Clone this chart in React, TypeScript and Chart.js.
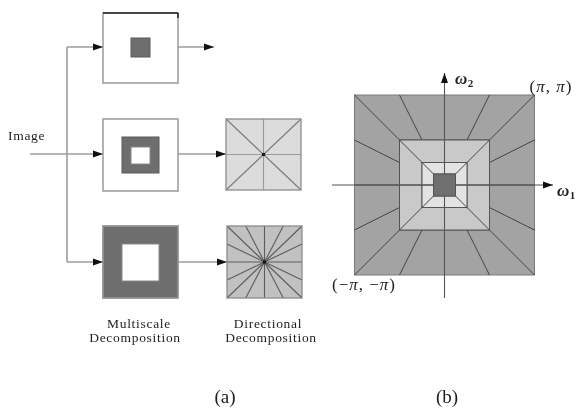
import React, { useEffect, useRef } from "react";
import { Chart, registerables } from "chart.js";
Chart.register(...registerables);

const W = 578;
const H = 409;

// ---------- Panel (a) ----------
// multiscale boxes [x0, y0, x1, y1]
const scaleBoxes = [
  [103, 13, 178, 83],
  [103, 119, 178, 191],
  [103, 226, 178, 298],
];
// dark pass-band in each box: outer rect and hole rect
const scaleBandOuter = [
  [131, 38, 150, 57],
  [122, 137, 159, 173],
  [103, 226, 178, 298],
];
const scaleBandHole: (number[] | null)[] = [
  null,
  [131, 147, 150, 164],
  [122, 244, 159, 281],
];
// directional boxes and number of sections per side
const dirBoxes = [
  [226, 119, 301, 190],
  [227, 226, 302, 298],
];
const dirDivisions = [2, 4];
const dirFills = ["#dcdcdc", "#c1c1c1"];
// connectors [x0, y0, x1, y1, arrowhead 1/0]
const connectors = [
  [67, 47, 67, 262, 0],
  [67, 47, 103, 47, 1],
  [178, 47, 214, 47, 1],
  [30, 154, 103, 154, 1],
  [178, 154, 226, 154, 1],
  [67, 262, 103, 262, 1],
  [178, 262, 227, 262, 1],
];

// ---------- Panel (b) ----------
const freqCenter = [444.5, 185];
const freqHalfSizes = [90, 45, 22.5, 11];
const freqFills = ["#a3a3a3", "#c9c9c9", "#e3e3e3", "#6f6f6f"];
const freqRayDivisions = [4, 2, 2];
const axisH = [332, 553];
const axisV = [298, 73];

// ---------- Labels ----------
const labelTexts = ["Image", "Multiscale", "Decomposition", "Directional", "Decomposition", "(a)", "(b)"];
const labelX = [8, 139, 135, 268, 271, 225, 447];
const labelY = [136, 324, 338, 324, 338, 398, 398];
const labelSize = [13.5, 13.5, 13.5, 13.5, 13.5, 19, 19];

function perimeterPoints(div: number) {
  // unit square points (−1..1) at fractions of each side
  const pts: number[][] = [];
  for (let i = 0; i < div; i++) {
    const t = -1 + (2 * i) / div;
    pts.push([t, -1]);
    pts.push([1, t]);
    pts.push([-t, 1]);
    pts.push([-1, -t]);
  }
  return pts;
}

const diagramPlugin = {
  id: "diagram",
  afterDatasetsDraw(chart: any) {
    const ctx: CanvasRenderingContext2D = chart.ctx;
    const sx = chart.scales.x;
    const sy = chart.scales.y;
    const px = (v: number) => sx.getPixelForValue(v);
    const py = (v: number) => sy.getPixelForValue(v);
    const rect = (r: number[], fill: string | null, stroke: string | null, lw = 1) => {
      const x0 = px(r[0]), y0 = py(r[1]), x1 = px(r[2]), y1 = py(r[3]);
      if (fill) {
        ctx.fillStyle = fill;
        ctx.fillRect(x0, y0, x1 - x0, y1 - y0);
      }
      if (stroke) {
        ctx.strokeStyle = stroke;
        ctx.lineWidth = lw;
        ctx.strokeRect(x0, y0, x1 - x0, y1 - y0);
      }
    };
    const line = (x0: number, y0: number, x1: number, y1: number, color: string, lw: number) => {
      ctx.beginPath();
      ctx.moveTo(px(x0), py(y0));
      ctx.lineTo(px(x1), py(y1));
      ctx.strokeStyle = color;
      ctx.lineWidth = lw;
      ctx.stroke();
    };
    const arrowHead = (x0: number, y0: number, x1: number, y1: number, len = 10, hw = 3.5) => {
      const X0 = px(x0), Y0 = py(y0), X1 = px(x1), Y1 = py(y1);
      const a = Math.atan2(Y1 - Y0, X1 - X0);
      ctx.beginPath();
      ctx.moveTo(X1, Y1);
      ctx.lineTo(X1 - len * Math.cos(a) + hw * Math.sin(a), Y1 - len * Math.sin(a) - hw * Math.cos(a));
      ctx.lineTo(X1 - len * Math.cos(a) - hw * Math.sin(a), Y1 - len * Math.sin(a) + hw * Math.cos(a));
      ctx.closePath();
      ctx.fillStyle = "#111";
      ctx.fill();
    };

    ctx.save();
    ctx.lineCap = "butt";

    // connectors
    connectors.forEach((c) => {
      line(c[0], c[1], c[2], c[3], "#9c9c9c", 1.6);
      if (c[4]) arrowHead(c[0], c[1], c[2], c[3]);
    });

    // multiscale boxes
    scaleBoxes.forEach((b, i) => {
      rect(b, "#ffffff", null);
      rect(scaleBandOuter[i], "#6e6e6e", "#5a5a5a", 1);
      const h = scaleBandHole[i];
      if (h) rect(h, "#ffffff", "#8a8a8a", 1);
      rect(b, null, "#9a9a9a", 1.5);
    });
    // top edge of first box is darker
    line(103, 13, 178, 13, "#222", 1.5);
    line(178, 13, 178, 18, "#222", 1.5);

    // directional boxes
    dirBoxes.forEach((b, i) => {
      rect(b, dirFills[i], null);
      const cx = (b[0] + b[2]) / 2, cy = (b[1] + b[3]) / 2;
      const hx = (b[2] - b[0]) / 2, hy = (b[3] - b[1]) / 2;
      const pts = perimeterPoints(dirDivisions[i]);
      pts.forEach((p) => {
        const axisAligned = p[0] === 0 || p[1] === 0;
        const col = i === 0 && axisAligned ? "#9a9a9a" : i === 0 ? "#7a7a7a" : "#5c5c5c";
        line(cx, cy, cx + p[0] * hx, cy + p[1] * hy, col, 1.1);
      });
      rect(b, null, "#8c8c8c", 1.3);
      ctx.fillStyle = "#111";
      ctx.fillRect(px(cx) - 1.5, py(cy) - 1.5, 3, 3);
    });

    // frequency plane
    const [fx, fy] = freqCenter;
    for (let k = 0; k < 3; k++) {
      const o = freqHalfSizes[k], inr = freqHalfSizes[k + 1];
      rect([fx - o, fy - o, fx + o, fy + o], freqFills[k], k === 0 ? "#7a7a7a" : "#555", 1);
      const pts = perimeterPoints(freqRayDivisions[k]);
      pts.forEach((p) => {
        line(fx + p[0] * inr, fy + p[1] * inr, fx + p[0] * o, fy + p[1] * o, "#444", 1);
      });
      rect([fx - inr, fy - inr, fx + inr, fy + inr], null, "#555", 1);
    }
    // axes
    line(axisH[0], fy, axisH[1], fy, "#555", 1.1);
    line(fx, axisV[0], fx, axisV[1], "#555", 1.1);
    arrowHead(axisH[0], fy, axisH[1], fy, 10, 3.5);
    arrowHead(fx, axisV[0], fx, axisV[1], 10, 3.5);
    // dark center
    const c = freqHalfSizes[3];
    rect([fx - c, fy - c, fx + c, fy + c], freqFills[3], "#555", 1);

    // labels
    ctx.textBaseline = "middle";
    ctx.fillStyle = "#241c1c";
    labelTexts.forEach((t, i) => {
      ctx.font = `${labelSize[i]}px "Liberation Serif", "DejaVu Serif", serif`;
      (ctx as any).letterSpacing = labelSize[i] < 15 ? "0.7px" : "0px";
      ctx.textAlign = i === 0 ? "left" : "center";
      ctx.fillText(t, px(labelX[i]), py(labelY[i]));
    });
    (ctx as any).letterSpacing = "0px";

    // math labels
    ctx.fillStyle = "#222";
    const drawOmega = (x: number, y: number, sub: string) => {
      ctx.textAlign = "left";
      ctx.font = `bold italic 17px "Liberation Serif", "DejaVu Serif", serif`;
      ctx.fillText("ω", px(x), py(y));
      const w = ctx.measureText("ω").width;
      ctx.font = `bold 11px "Liberation Serif", "DejaVu Serif", serif`;
      ctx.fillText(sub, px(x) + w + 0.5, py(y) + 4);
    };
    drawOmega(455, 80, "2");
    drawOmega(557, 192, "1");

    const drawPi = (xCenter: number, y: number, segs: [string, boolean][]) => {
      const fnt = (it: boolean) => `${it ? "italic " : ""}17px "Liberation Serif", "DejaVu Serif", serif`;
      let total = 0;
      segs.forEach(([s, it]) => {
        ctx.font = fnt(it);
        total += ctx.measureText(s).width + 1;
      });
      let x = px(xCenter) - total / 2;
      ctx.textAlign = "left";
      segs.forEach(([s, it]) => {
        ctx.font = fnt(it);
        ctx.fillText(s, x, py(y));
        x += ctx.measureText(s).width + 1;
      });
    };
    drawPi(551, 88, [["(", false], ["π", true], [",", false], [" ", false], ["π", true], [")", false]]);
    drawPi(364, 286, [["(", false], ["−", false], ["π", true], [",", false], [" ", false], ["−", false], ["π", true], [")", false]]);

    ctx.restore();
  },
};

export default function App() {
  const ref = useRef<HTMLCanvasElement | null>(null);
  useEffect(() => {
    if (!ref.current) return;
    const chart = new Chart(ref.current, {
      type: "scatter",
      data: { datasets: [{ data: [], pointRadius: 0 }] },
      options: {
        animation: false,
        responsive: false,
        events: [],
        layout: { padding: 0 },
        plugins: { legend: { display: false }, tooltip: { enabled: false } },
        scales: {
          x: { display: false, min: 0, max: W },
          y: { display: false, min: 0, max: H, reverse: true },
        },
      },
      plugins: [diagramPlugin],
    });
    return () => chart.destroy();
  }, []);
  return (
    <div style={{ position: "absolute", left: 0, top: 0, width: W, height: H, background: "#fff" }}>
      <canvas ref={ref} width={W} height={H} style={{ width: W, height: H, display: "block" }} />
    </div>
  );
}
